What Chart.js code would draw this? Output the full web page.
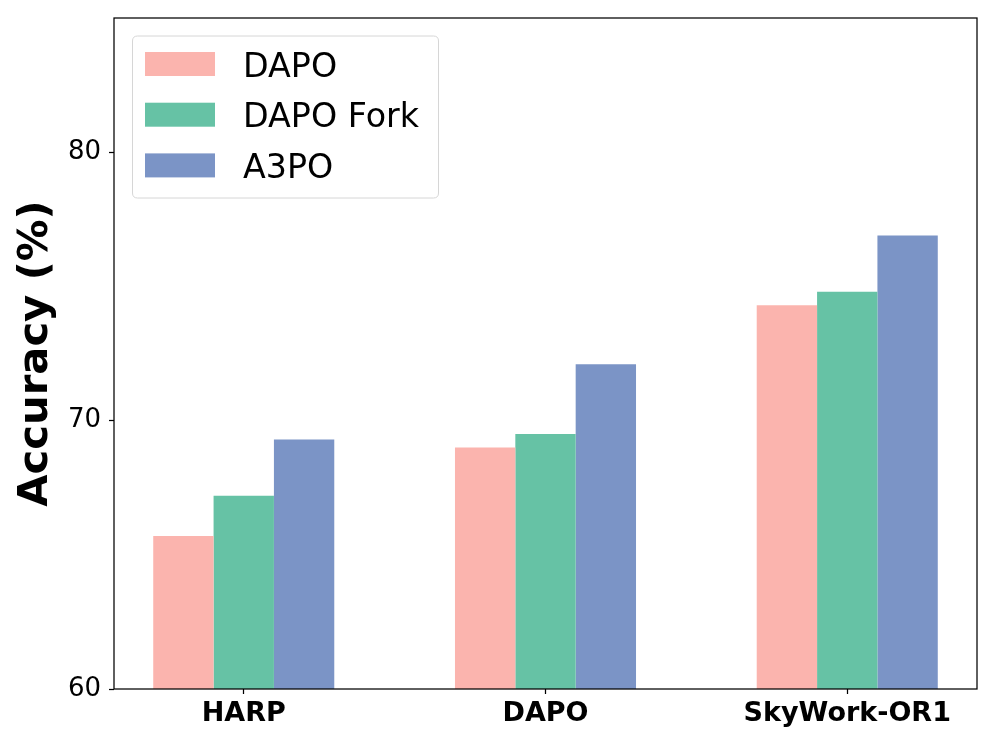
<!DOCTYPE html>
<html>
<head>
<meta charset="utf-8">
<script src="https://cdn.jsdelivr.net/npm/chart.js@4/dist/chart.umd.min.js"></script>
<style>
  html, body { margin: 0; padding: 0; background: #ffffff; }
  #wrap { width: 996px; height: 747px; position: relative; }
</style>
</head>
<body>
<div id="wrap"><canvas id="c" width="996" height="747"></canvas></div>
<script>
// ---- data ----
const categories = ["HARP", "DAPO", "SkyWork-OR1"];
const seriesNames = ["DAPO", "DAPO Fork", "A3PO"];
const dapoValues = [65.7, 69.0, 74.3];
const dapoForkValues = [67.2, 69.5, 74.8];
const a3poValues = [69.3, 72.1, 76.9];
const yTicks = [60, 70, 80];
const yMin = 60, yMax = 85;

const colors = ["#fbb4ae", "#66c2a5", "#7b94c6"];
const FONT = "'DejaVu Sans', 'Liberation Sans', sans-serif";

function toPoints(vals) { return vals.map((v, i) => ({ x: i, y: v })); }

const seriesValues = [dapoValues, dapoForkValues, a3poValues];
const datasets = seriesNames.map((name, k) => ({
  label: name,
  data: toPoints(seriesValues[k]),
  backgroundColor: colors[k],
  borderWidth: 0,
  categoryPercentage: 0.6,
  barPercentage: 1.0
}));

const framePlugin = {
  id: 'frame',
  afterDatasetsDraw(chart) {
    const { ctx, chartArea: a } = chart;
    ctx.save();
    ctx.strokeStyle = '#000';
    ctx.lineWidth = 1.25;
    ctx.strokeRect(a.left, a.top, a.right - a.left, a.bottom - a.top);
    ctx.restore();
  }
};

const legendPlugin = {
  id: 'innerLegend',
  afterDraw(chart) {
    const { ctx } = chart;
    const x0 = 132.5, y0 = 36, w = 306, h = 162, r = 5;
    ctx.save();
    ctx.beginPath();
    ctx.moveTo(x0 + r, y0);
    ctx.lineTo(x0 + w - r, y0);
    ctx.quadraticCurveTo(x0 + w, y0, x0 + w, y0 + r);
    ctx.lineTo(x0 + w, y0 + h - r);
    ctx.quadraticCurveTo(x0 + w, y0 + h, x0 + w - r, y0 + h);
    ctx.lineTo(x0 + r, y0 + h);
    ctx.quadraticCurveTo(x0, y0 + h, x0, y0 + h - r);
    ctx.lineTo(x0, y0 + r);
    ctx.quadraticCurveTo(x0, y0, x0 + r, y0);
    ctx.closePath();
    ctx.fillStyle = 'rgba(255,255,255,0.8)';
    ctx.fill();
    ctx.strokeStyle = '#d6d6d6';
    ctx.lineWidth = 1;
    ctx.stroke();
    const fs = 33.3;
    ctx.font = fs + 'px ' + FONT;
    ctx.textBaseline = 'alphabetic';
    ctx.textAlign = 'left';
    chart.data.datasets.forEach((ds, i) => {
      const cy = 64 + i * 50.7;
      ctx.fillStyle = ds.backgroundColor;
      ctx.fillRect(145, cy - 12, 70, 24);
      ctx.fillStyle = '#000';
      ctx.fillText(ds.label, 243, cy + 0.5 + 0.729 * fs / 2);
    });
    ctx.restore();
  }
};

new Chart(document.getElementById('c'), {
  type: 'bar',
  data: { datasets },
  options: {
    responsive: false,
    animation: false,
    devicePixelRatio: 1,
    layout: { padding: { top: 18, right: 19, left: 0, bottom: 0 } },
    plugins: { legend: { display: false }, tooltip: { enabled: false } },
    scales: {
      x: {
        type: 'linear',
        min: -0.43,
        max: 2.43,
        offset: false,
        afterBuildTicks(scale) { scale.ticks = categories.map((c, i) => ({ value: i })); },
        afterFit(scale) { scale.height = 58; scale.paddingLeft = 0; scale.paddingRight = 0; },
        grid: { offset: false, drawOnChartArea: false, drawTicks: true, tickLength: 5, tickColor: '#000', tickWidth: 1.25 },
        border: { display: false },
        ticks: {
          autoSkip: false,
          maxRotation: 0,
          padding: 4,
          color: '#000',
          font: { family: FONT, size: 27, weight: 'bold' },
          callback: (v) => categories[Math.round(v)] ?? ''
        }
      },
      y: {
        min: yMin,
        max: yMax,
        afterBuildTicks(scale) { scale.ticks = yTicks.map(v => ({ value: v })); },
        afterFit(scale) { scale.width = 114; scale.paddingTop = 0; scale.paddingBottom = 0; },
        grid: { drawOnChartArea: false, drawTicks: true, tickLength: 5, tickColor: '#000', tickWidth: 1.25 },
        border: { display: false },
        ticks: {
          padding: 8,
          color: '#000',
          font: { family: FONT, size: 26 }
        },
        title: {
          display: true,
          text: 'Accuracy (%)',
          color: '#000',
          padding: { top: 11, bottom: 0 },
          font: { family: FONT, size: 41.7, weight: 'bold' }
        }
      }
    }
  },
  plugins: [framePlugin, legendPlugin]
});
</script>
</body>
</html>
